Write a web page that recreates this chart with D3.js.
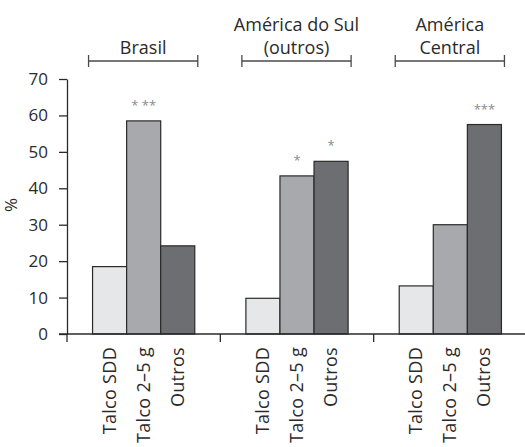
<!DOCTYPE html>
<html>
<head>
<meta charset="utf-8">
<script src="https://cdn.jsdelivr.net/npm/d3@7"></script>
<style>
  body { margin: 0; background: #fff; }
  svg text { font-family: "Open Sans", sans-serif; fill: #2b2a2b; }
</style>
</head>
<body>
<div id="chart"></div>
<script>
// Chart data
const groups = ["Brasil", "América do Sul (outros)", "América Central"];
const groupLabelLines = [["Brasil"], ["América do Sul", "(outros)"], ["América", "Central"]];
const categories = ["Talco SDD", "Talco 2–5 g", "Outros"];
const brasilValues = [18.5, 58.5, 24.2];
const sulValues = [9.8, 43.4, 47.4];
const centralValues = [13.2, 30, 57.5];
const significance = [["", "* **", ""], ["", "*", "*"], ["", "", "***"]];
const yTicks = [0, 10, 20, 30, 40, 50, 60, 70];

const seriesByGroup = [brasilValues, sulValues, centralValues];
const barColors = ["#e6e7e8", "#a7a9ac", "#6d6e71"];
const ink = "#2b2a2b";

const width = 525;
const height = 447;

const svg = d3.select("#chart").append("svg").attr("width", width).attr("height", height);

// Scales
const x0 = d3.scaleBand().domain(groups).range([67, 527]).padding(0);
const x1 = d3.scaleBand().domain(categories).range([0, x0.bandwidth()]).paddingInner(0).paddingOuter(0.75);
const y = d3.scaleLinear().domain([0, 70]).range([334, 79]);

// Y axis
const yAxis = svg.append("g").attr("transform", "translate(67,0)")
  .call(d3.axisLeft(y).tickValues(yTicks).tickSizeInner(8).tickSizeOuter(0).tickPadding(11));
yAxis.select(".domain").attr("stroke", ink).attr("stroke-width", 1.3);
yAxis.selectAll(".tick line").attr("stroke", ink).attr("stroke-width", 1.3);
yAxis.selectAll(".tick text").style("font-size", "17px").attr("fill", ink);

svg.append("text")
  .attr("transform", `translate(17,205) rotate(-90)`)
  .attr("text-anchor", "middle")
  .style("font-size", "17px")
  .text("%");

// Bars
const groupG = svg.selectAll(".group")
  .data(groups)
  .enter()
  .append("g")
  .attr("class", "group")
  .attr("transform", (g) => `translate(${x0(g)},0)`);

groupG.selectAll("rect")
  .data((g, gi) => categories.map((c, i) => ({ c, v: seriesByGroup[gi][i], i })))
  .enter()
  .append("rect")
  .attr("x", (d) => x1(d.c))
  .attr("y", (d) => y(d.v))
  .attr("width", x1.bandwidth())
  .attr("height", (d) => y(0) - y(d.v))
  .attr("fill", (d) => barColors[d.i])
  .attr("stroke", ink)
  .attr("stroke-width", 1.2);

// Significance marks
groupG.selectAll(".sig")
  .data((g, gi) => categories.map((c, i) => ({ c, v: seriesByGroup[gi][i], s: significance[gi][i] })))
  .enter()
  .append("text")
  .attr("class", "sig")
  .attr("x", (d) => x1(d.c) + x1.bandwidth() / 2)
  .attr("y", (d) => y(d.v) - 11)
  .attr("text-anchor", "middle")
  .style("font-size", "13px")
  .style("fill", "#8a8a8c")
  .text((d) => d.s);

// Category labels (rotated)
groupG.selectAll(".cat")
  .data(categories)
  .enter()
  .append("text")
  .attr("class", "cat")
  .attr("transform", (c) => `translate(${x1(c) + x1.bandwidth() / 2 + 6},347) rotate(-90)`)
  .attr("text-anchor", "end")
  .style("font-size", "18px")
  .style("letter-spacing", "0.3px")
  .text((c) => c);

// X axis line with group ticks
svg.append("line")
  .attr("x1", 59).attr("x2", 527)
  .attr("y1", y(0)).attr("y2", y(0))
  .attr("stroke", ink).attr("stroke-width", 1.3);

svg.selectAll(".gtick")
  .data([67, ...groups.map((g) => x0(g) + x0.bandwidth())])
  .enter()
  .append("line")
  .attr("x1", (d) => d).attr("x2", (d) => d)
  .attr("y1", y(0)).attr("y2", y(0) + 8)
  .attr("stroke", ink).attr("stroke-width", 1.3);

// Group brackets and labels
const bracketY = 61;
groupG.each(function (g, gi) {
  const sel = d3.select(this);
  const left = x1(categories[0]) - 4;
  const right = x1(categories[2]) + x1.bandwidth() + 3;
  sel.append("line").attr("x1", left).attr("x2", right).attr("y1", bracketY).attr("y2", bracketY)
    .attr("stroke", "#4a4a4c").attr("stroke-width", 1.6);
  [left, right].forEach((px) => {
    sel.append("line").attr("x1", px).attr("x2", px).attr("y1", bracketY - 6).attr("y2", bracketY + 6)
      .attr("stroke", "#4a4a4c").attr("stroke-width", 1.3);
  });
  const lines = groupLabelLines[gi];
  lines.forEach((ln, li) => {
    sel.append("text")
      .attr("x", (left + right) / 2)
      .attr("y", 54 - (lines.length - 1 - li) * 23)
      .attr("text-anchor", "middle")
      .style("font-size", "18px")
      .text(ln);
  });
});
</script>
</body>
</html>
